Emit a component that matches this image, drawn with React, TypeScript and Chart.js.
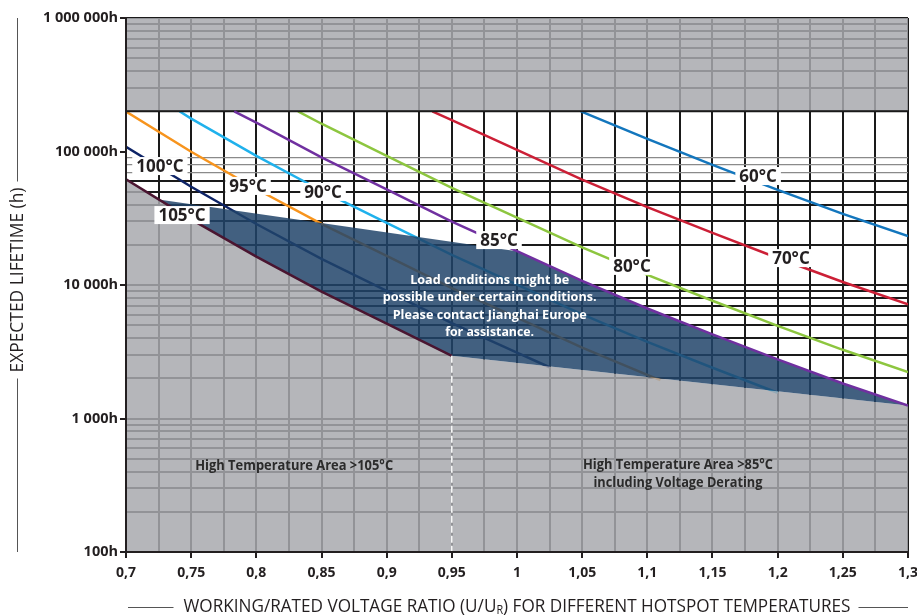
import React, { useEffect, useRef } from 'react';
import { Chart, registerables } from 'chart.js';

Chart.register(...registerables);

// ---- data (voltage ratio U/UR, expected lifetime in hours) ----
const T105 = [[0.7, 61800], [0.75, 31000], [0.8, 16300], [0.85, 8930], [0.9, 5140], [0.95, 2950]];
const T100 = [[0.7, 108600], [0.75, 54450], [0.8, 28640], [0.85, 15700], [0.9, 9040], [0.95, 5190], [1.0, 3110], [1.025, 2420]];
const T95 = [[0.7, 199000], [0.75, 99540], [0.8, 52360], [0.85, 28710], [0.9, 16520], [0.95, 9480], [1.0, 5690], [1.05, 3400], [1.1, 2120], [1.11, 1940]];
const T90 = [[0.741, 200000], [0.75, 176200], [0.8, 92680], [0.85, 50820], [0.9, 29240], [0.95, 16790], [1.0, 10070], [1.05, 6030], [1.1, 3750], [1.15, 2400], [1.2, 1560]];
const T85 = [[0.783, 200000], [0.8, 164800], [0.85, 90360], [0.9, 52000], [0.95, 29850], [1.0, 17910], [1.05, 10720], [1.1, 6670], [1.15, 4270], [1.2, 2770], [1.25, 1830], [1.3, 1250]];
const T80 = [[0.832, 200000], [0.85, 161400], [0.9, 92900], [0.95, 53330], [1.0, 31990], [1.05, 19140], [1.1, 11910], [1.15, 7620], [1.2, 4940], [1.25, 3270], [1.3, 2230]];
const T70 = [[0.935, 200000], [0.95, 171800], [1.0, 103000], [1.05, 61660], [1.1, 38370], [1.15, 24550], [1.2, 15920], [1.25, 10540], [1.3, 7180]];
const T60 = [[1.049, 200000], [1.1, 124200], [1.15, 79430], [1.2, 51520], [1.25, 34120], [1.3, 23230]];

// regions
const UPPER_LIMIT = [[0.7, 200000], [1.3, 200000]];
const HIGH_TEMP_EDGE = [[0.7, 61800], [0.75, 31000], [0.8, 16300], [0.85, 8930], [0.9, 5140], [0.95, 2950], [1.3, 1250]];
const LOAD_AREA = [[0.725, 43750], [1.0, 17910], [1.05, 10720], [1.1, 6670], [1.15, 4270], [1.2, 2770], [1.25, 1830], [1.3, 1250], [0.95, 2950], [0.9, 5140], [0.85, 8930], [0.8, 16300], [0.75, 31000], [0.725, 43750]];
const DIVIDER = [[0.95, 2950], [0.95, 100]];

// labels
const TEMP_LABELS = ['105°C', '100°C', '95°C', '90°C', '85°C', '80°C', '70°C', '60°C'];
const TEMP_LABEL_X = [0.743, 0.726, 0.7936, 0.8512, 0.9862, 1.0882, 1.2102, 1.185];
const TEMP_LABEL_Y = [33400, 77800, 55200, 49800, 21700, 13900, 15900, 65500];

const NOTE_LINES = ['Load conditions might be', 'possible under certain conditions.', 'Please contact Jianghai Europe', 'for assistance.'];
const NOTE_WIDTHS = [159, 214, 194, 89];
const NOTE_X = 0.979;
const NOTE_Y = 10900;

const AREA_TEXTS = ['High Temperature Area >105°C', 'High Temperature Area >85°C', 'including Voltage Derating'];
const AREA_X = [0.829, 1.1235, 1.1235];
const AREA_Y = [441, 449, 329];
const AREA_W = [198, 190, 169];

const Y_TITLE = 'EXPECTED LIFETIME (h)';
const X_TITLE = ['WORKING/RATED VOLTAGE RATIO (U/U', 'R', ') FOR DIFFERENT HOTSPOT TEMPERATURES'];

const Y_GRID: number[] = (() => {
  const out: number[] = [];
  for (let e = 2; e < 6; e++) for (let m = 1; m < 10; m++) out.push(m * Math.pow(10, e));
  out.push(1e6);
  return out;
})();
const X_GRID = Array.from({ length: 25 }, (_, i) => Math.round((0.7 + i * 0.025) * 1000) / 1000);

const GRAY = 'rgba(168,169,174,0.85)';
const BLUE = 'rgba(33,68,106,0.85)';
const INK = '#231f20';
const FONT = '"Open Sans", "Noto Sans", sans-serif';

const toXY = (arr: number[][]) => arr.map(([x, y]) => ({ x, y }));
const isDecade = (v: number) => { const l = Math.log10(v); return Math.abs(l - Math.round(l)) < 1e-9; };
const fmtHours = (v: number) => Math.round(v).toString().replace(/\B(?=(\d{3})+(?!\d))/g, ' ') + 'h';
const isHalf = (v: number) => Math.abs(v * 20 - Math.round(v * 20)) < 1e-6;
const fmtRatio = (v: number) => String(Math.round(v * 1000) / 1000).replace('.', ',');

function drawPieces(ctx: CanvasRenderingContext2D, pieces: { text: string; font: string; dy: number }[], cx: number, cy: number, target: number) {
  let total = 0;
  const widths = pieces.map((p) => { ctx.font = p.font; const w = ctx.measureText(p.text).width; total += w; return w; });
  const s = Math.min(1, target / total);
  ctx.save();
  ctx.translate(cx - (total * s) / 2, cy);
  ctx.scale(s, 1);
  ctx.textAlign = 'left';
  ctx.textBaseline = 'middle';
  let xx = 0;
  pieces.forEach((p, i) => { ctx.font = p.font; ctx.fillText(p.text, xx, p.dy); xx += widths[i]; });
  ctx.restore();
  return total * s;
}

const annotate = {
  id: 'annotate',
  afterDatasetsDraw(chart: any) {
    const { ctx, scales: { x, y } } = chart;
    ctx.save();
    ctx.textAlign = 'center';
    ctx.textBaseline = 'middle';
    // temperature labels
    ctx.font = `bold 17px ${FONT}`;
    TEMP_LABELS.forEach((t, i) => {
      const px = x.getPixelForValue(TEMP_LABEL_X[i]);
      const py = y.getPixelForValue(TEMP_LABEL_Y[i]);
      const w = ctx.measureText(t).width;
      ctx.fillStyle = '#ffffff';
      ctx.fillRect(px - w / 2 - 4, py - 9, w + 8, 18);
      ctx.fillStyle = INK;
      ctx.fillText(t, px, py + 1);
    });
    // note
    ctx.font = `bold 13px ${FONT}`;
    ctx.fillStyle = '#ffffff';
    const nx = x.getPixelForValue(NOTE_X);
    const ny = y.getPixelForValue(NOTE_Y);
    NOTE_LINES.forEach((t, i) => ctx.fillText(t, nx, ny + i * 17.5, NOTE_WIDTHS[i]));
    // area texts
    ctx.font = `bold 13.5px ${FONT}`;
    ctx.fillStyle = '#2b2b2b';
    AREA_TEXTS.forEach((t, i) => ctx.fillText(t, x.getPixelForValue(AREA_X[i]), y.getPixelForValue(AREA_Y[i]), AREA_W[i]));
    ctx.restore();
  },
  afterDraw(chart: any) {
    const { ctx, chartArea: a } = chart;
    ctx.save();
    ctx.fillStyle = INK;
    ctx.strokeStyle = '#555555';
    ctx.lineWidth = 1;
    const f = `19px ${FONT}`;
    // x title
    const cx = (a.left + a.right) / 2;
    const ty = 607;
    const w = drawPieces(ctx, [
      { text: X_TITLE[0], font: f, dy: 0 },
      { text: X_TITLE[1], font: `12px ${FONT}`, dy: 4 },
      { text: X_TITLE[2], font: f, dy: 0 },
    ], cx, ty, 667);
    ctx.beginPath();
    ctx.moveTo(a.left + 2, ty + 0.5); ctx.lineTo(cx - w / 2 - 10, ty + 0.5);
    ctx.moveTo(cx + w / 2 + 8, ty + 0.5); ctx.lineTo(a.right, ty + 0.5);
    ctx.stroke();
    // y title
    const yc = 280;
    ctx.save();
    ctx.translate(18, yc);
    ctx.rotate(-Math.PI / 2);
    const h = drawPieces(ctx, [{ text: Y_TITLE, font: f, dy: 0 }], 0, 0, 185);
    ctx.restore();
    ctx.beginPath();
    ctx.moveTo(17.5, a.top); ctx.lineTo(17.5, yc - h / 2 - 6);
    ctx.moveTo(17.5, yc + h / 2 + 6); ctx.lineTo(17.5, a.bottom);
    ctx.stroke();
    ctx.restore();
  },
};

const curve = (label: string, pts: number[][], color: string, order: number) => ({
  label, data: toXY(pts), borderColor: color, borderWidth: 2.5, pointRadius: 0, fill: false, tension: 0, order,
});

export default function App() {
  const ref = useRef<HTMLCanvasElement | null>(null);
  useEffect(() => {
    if (!ref.current) return;
    const chart = new Chart(ref.current, {
      type: 'line',
      data: {
        datasets: [
          curve('100°C', T100, '#0d2366', 10),
          curve('95°C', T95, '#f7941d', 10),
          curve('90°C', T90, '#1fb1ec', 10),
          curve('80°C', T80, '#8dc63f', 10),
          curve('70°C', T70, '#cc1f36', 10),
          curve('60°C', T60, '#1376bd', 10),
          { label: 'limit', data: toXY(UPPER_LIMIT), borderColor: '#1a1a1a', borderWidth: 2, backgroundColor: GRAY, fill: 'end', pointRadius: 0, order: 5 },
          { label: 'high', data: toXY(HIGH_TEMP_EDGE), borderColor: 'rgba(0,0,0,0)', borderWidth: 0, backgroundColor: GRAY, fill: 'start', pointRadius: 0, order: 5 },
          { label: 'load', data: toXY(LOAD_AREA), borderColor: 'rgba(0,0,0,0)', borderWidth: 0, backgroundColor: BLUE, fill: 'shape', pointRadius: 0, order: 4 },
          curve('85°C', T85, '#7030a0', 1),
          curve('105°C', T105, '#4a1530', 1),
          { label: 'div', data: toXY(DIVIDER), borderColor: '#ffffff', borderWidth: 1.5, borderDash: [7, 3], pointRadius: 0, fill: false, order: 0 },
        ] as any,
      },
      options: {
        responsive: false,
        animation: false,
        devicePixelRatio: 1,
        events: [],
        layout: { padding: { top: 18, right: 9, left: 0, bottom: 0 } },
        plugins: { legend: { display: false }, tooltip: { enabled: false } },
        scales: {
          x: {
            type: 'linear',
            min: 0.7,
            max: 1.3,
            afterBuildTicks: (s: any) => { s.ticks = X_GRID.map((v) => ({ value: v })); },
            afterFit: (s: any) => { s.height = 64; s.paddingLeft = 0; s.paddingRight = 0; },
            grid: {
              color: '#1a1a1a',
              lineWidth: 2,
              tickLength: 6,
              tickWidth: 2,
              tickColor: (c: any) => (c.tick && isHalf(c.tick.value) ? INK : 'rgba(0,0,0,0)'),
            },
            border: { color: INK, width: 2, z: 1 },
            ticks: {
              autoSkip: false,
              maxRotation: 0,
              padding: 7,
              color: INK,
              font: { family: FONT, weight: 'bold', size: 14 },
              callback: (v: any) => (isHalf(Number(v)) ? fmtRatio(Number(v)) : ''),
            },
          },
          y: {
            type: 'logarithmic',
            min: 100,
            max: 1000000,
            afterBuildTicks: (s: any) => { s.ticks = Y_GRID.map((v) => ({ value: v })); },
            afterFit: (s: any) => { s.width = 126; s.paddingTop = 0; s.paddingBottom = 0; },
            grid: {
              color: (c: any) => {
                const v = c.tick ? c.tick.value : 0;
                if (v === 100000) return 'rgba(0,0,0,0)';
                if (v === 70000 || v === 80000 || v === 90000) return '#8a8a8a';
                return '#1a1a1a';
              },
              lineWidth: (c: any) => {
                const v = c.tick ? c.tick.value : 0;
                return v === 70000 || v === 80000 || v === 90000 ? 1.3 : 2;
              },
              tickLength: 6,
              tickWidth: 2,
              tickColor: (c: any) => (c.tick && isDecade(c.tick.value) ? INK : 'rgba(0,0,0,0)'),
            },
            border: { color: INK, width: 2, z: 1 },
            ticks: {
              autoSkip: false,
              padding: 2,
              color: INK,
              font: { family: FONT, weight: 'bold', size: 14.5 },
              callback: (v: any) => (isDecade(Number(v)) ? fmtHours(Number(v)) : ''),
            },
          },
        },
      } as any,
      plugins: [annotate],
    });
    return () => chart.destroy();
  }, []);
  return (
    <div style={{ position: 'fixed', left: 0, top: 0, width: 917, height: 616, background: '#ffffff' }}>
      <canvas ref={ref} width={917} height={616} style={{ display: 'block', width: 917, height: 616 }} />
    </div>
  );
}
